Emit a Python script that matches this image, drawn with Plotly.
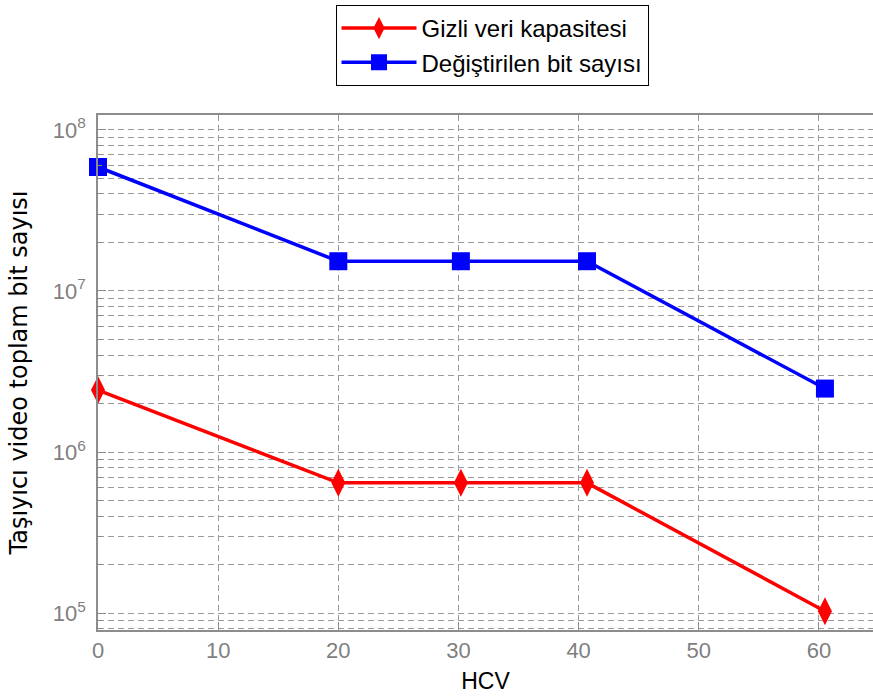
import plotly.graph_objects as go

# HCV values on the horizontal axis
hcv = [0, 20, 30.2, 40.7, 60.5]

# Series values (bits)
gizli_veri = [2.43e6, 6.45e5, 6.45e5, 6.45e5, 1.03e5]
degistirilen_bit = [5.88e7, 1.53e7, 1.53e7, 1.53e7, 2.48e6]

# Log-axis ticks
major_ticks = [1e5, 1e6, 1e7, 1e8]
major_text = ["10<sup>5</sup>", "10<sup>6</sup>", "10<sup>7</sup>", "10<sup>8</sup>"]
minor_ticks = [m * 10 ** e for e in range(4, 8) for m in range(2, 10)]

x_ticks = [0, 10, 20, 30, 40, 50, 60]

FONT = "Liberation Sans, Arial, sans-serif"
GRID = "#9a9a9a"
AXIS = "#8c8c8c"

fig = go.Figure()
fig.add_trace(go.Scatter(
    x=hcv, y=gizli_veri, mode="lines+markers", name="Gizli veri kapasitesi",
    line=dict(color="#ff0000", width=3.5),
    marker=dict(symbol="diamond-tall", size=20, color="#ff0000"),
    cliponaxis=False, legendgroup="a",
))
fig.add_trace(go.Scatter(
    x=hcv, y=degistirilen_bit, mode="lines+markers", name="Değiştirilen bit sayısı",
    line=dict(color="#0000ff", width=3.5),
    marker=dict(symbol="square", size=18, color="#0000ff"),
    cliponaxis=False, legendgroup="b",
))

fig.update_layout(
    width=873, height=698, autosize=False,
    margin=dict(l=98, r=0, t=115, b=68, autoexpand=False),
    paper_bgcolor="white", plot_bgcolor="white",
    font=dict(family=FONT, size=22, color="#000000"),
    showlegend=True,
    legend=dict(
        xref="paper", yref="paper",
        x=(492 - 98) / 775, y=1 + (115 - 5) / 515, xanchor="center", yanchor="top",
        bgcolor="white", bordercolor="#000000", borderwidth=1,
        font=dict(family=FONT, size=24, color="#000000"),
        traceorder="grouped", tracegroupgap=0, itemwidth=75,
    ),
    xaxis=dict(
        range=[0, 64.5], tickvals=x_ticks,
        showline=True, linecolor=AXIS, linewidth=1.5, mirror=True,
        ticks="inside", ticklen=8, tickcolor=AXIS,
        showgrid=True, gridcolor=GRID, griddash="6px,4px", gridwidth=1.2,
        zeroline=False,
        tickfont=dict(family=FONT, size=22, color="#7f7f7f"),
        title=dict(text="HCV", font=dict(family=FONT, size=23, color="#000000"), standoff=11),
    ),
    yaxis=dict(
        type="log", range=[4.8965, 8.092],
        tickvals=major_ticks, ticktext=major_text,
        showline=True, linecolor=AXIS, linewidth=1.5, mirror=False,
        ticks="inside", ticklen=8, tickcolor=AXIS,
        ticklabelstandoff=6,
        showgrid=True, gridcolor=GRID, griddash="6px,4px", gridwidth=1.2,
        zeroline=False,
        tickfont=dict(family=FONT, size=22, color="#7f7f7f"),
        minor=dict(tickvals=minor_ticks, showgrid=True, gridcolor=GRID,
                   griddash="6px,4px", gridwidth=1.2,
                   ticks="inside", ticklen=4, tickcolor=AXIS),
        title=dict(text="Taşıyıcı video toplam bit sayısı",
                   font=dict(family="DejaVu Sans, sans-serif", size=24, color="#000000"),
                   standoff=18),
    ),
)

fig.write_html("out.html")
